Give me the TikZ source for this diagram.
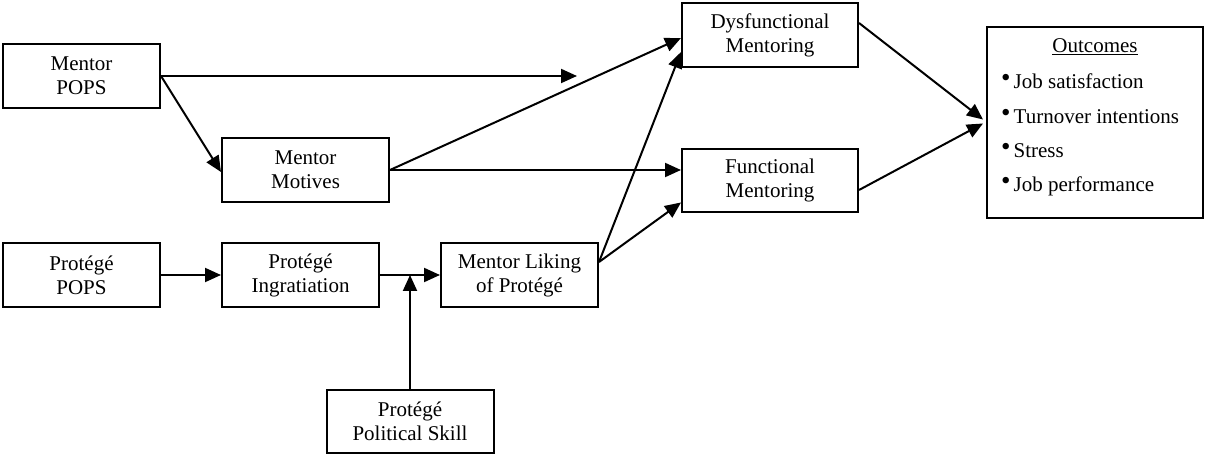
\documentclass[tikz,border=0pt]{standalone}
\usepackage{fontspec}
\setmainfont{Liberation Serif}
\usetikzlibrary{arrows.meta}
\newcommand{\bulletmark}{\raisebox{2.5pt}{\fontsize{27pt}{27pt}\selectfont •}\hspace{3pt}}
\begin{document}
\begin{tikzpicture}[x=1pt,y=-1pt,
  box/.style={draw, line width=2pt, inner sep=0pt, align=center,
    font=\fontsize{21pt}{24pt}\selectfont},
  arr/.style={line width=2pt, -{Triangle[length=16pt,width=14pt]}},
  txt/.style={inner sep=0pt, font=\fontsize{21pt}{24pt}\selectfont},
  bul/.style={txt, anchor=base west}]
\useasboundingbox[fill=white] (0,0) rectangle (1207,454);
% boxes
\node[box, minimum width=157pt, minimum height=64pt] (mpops) at (81.5,76) {Mentor\\POPS};
\node[box, minimum width=167pt, minimum height=64pt] (motives) at (305.5,170) {Mentor\\Motives};
\node[box, minimum width=176pt, minimum height=64pt] (dys) at (770,35) {Dysfunctional\\Mentoring};
\node[box, minimum width=176pt, minimum height=63pt] (fun) at (770,180.5) {Functional\\Mentoring};
\node[box, minimum width=216pt, minimum height=191pt] (out) at (1095,122.5) {};
\node[box, minimum width=157pt, minimum height=64pt] (ppops) at (81.5,275) {Protégé\\POPS};
\node[box, minimum width=157pt, minimum height=64pt] (ingr) at (300.5,275) {Protégé\\Ingratiation};
\node[box, minimum width=157pt, minimum height=64pt] (liking) at (519.5,275) {Mentor Liking\\of Protégé};
\node[box, minimum width=167pt, minimum height=63pt] (skill) at (410,421) {Protégé\\Political Skill};
% outcomes text
\node[txt] (outT) at (1095,47) {\underline{Outcomes}};
\node[bul] (o1) at (1001,89) {\bulletmark Job satisfaction};
\node[bul] (o2) at (1001,124) {\bulletmark Turnover intentions};
\node[bul] (o3) at (1001,158) {\bulletmark Stress};
\node[bul] (o4) at (1001,192) {\bulletmark Job performance};
% connectors
\coordinate (freeEnd) at (577,76);
\draw[arr] (mpops.east) -- (freeEnd);
\draw[arr] (mpops.east) -- ([yshift=-2pt]motives.west);
\draw[arr] (motives.east) -- ([yshift=-3pt]dys.west);
\draw[arr] (motives.east) -- (motives.east -| fun.west);
\draw[arr] ([yshift=13pt]liking.east) -- ([yshift=-17pt]dys.west);
\draw[arr] ([yshift=13pt]liking.east) -- ([yshift=-22pt]fun.west);
\draw[arr] ([yshift=12pt]dys.east) -- ([xshift=-3pt,yshift=3pt]out.west);
\draw[arr] ([yshift=-9.5pt]fun.east) -- ([xshift=-3pt,yshift=-1pt]out.west);
\draw[arr] (ppops.east) -- (ingr.west);
\draw[arr] (ingr.east) -- (liking.west);
\draw[arr] (skill.north) -- (skill.north |- ingr.east);
\end{tikzpicture}
\end{document}
